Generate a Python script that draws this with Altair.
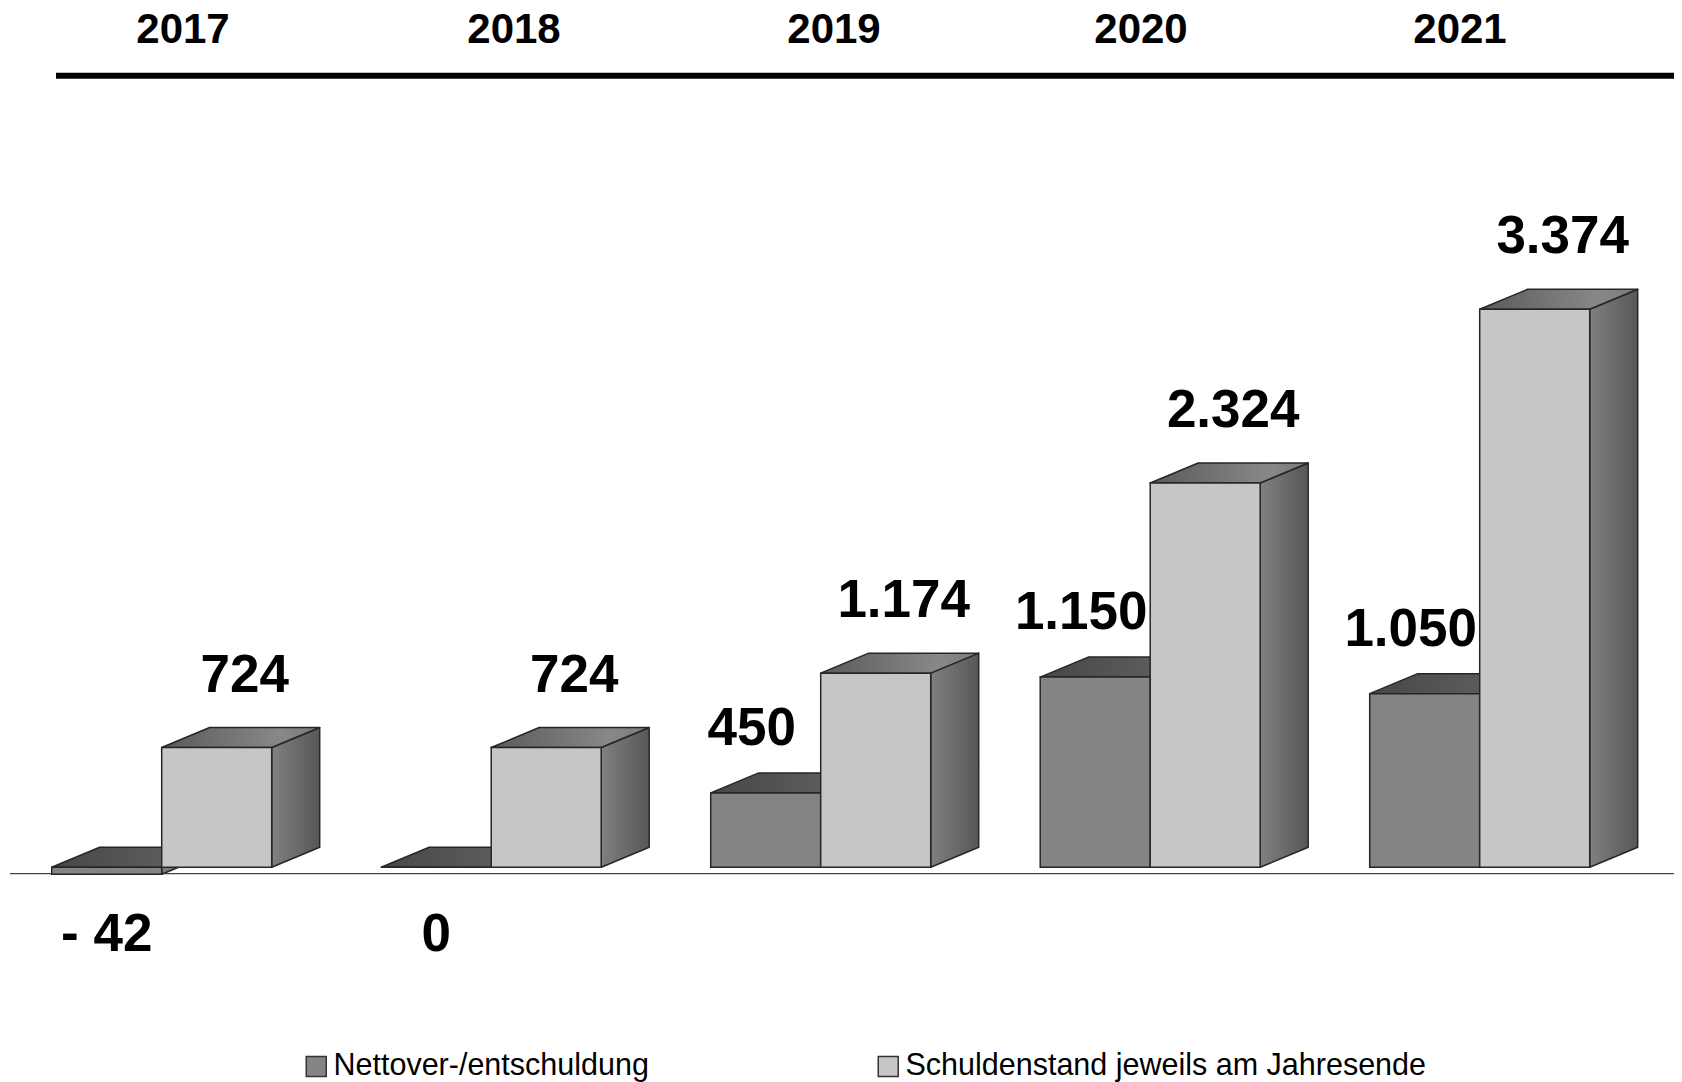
import altair as alt
import pandas as pd

# ---- data ----
years = ["2017", "2018", "2019", "2020", "2021"]
netto = [-42, 0, 450, 1150, 1050]          # Nettover-/entschuldung
stand = [724, 724, 1174, 2324, 3374]       # Schuldenstand jeweils am Jahresende
series_names = ["Nettover-/entschuldung", "Schuldenstand jeweils am Jahresende"]

# ---- layout (pixels of the plot area) ----
W, H = 1666, 1074
PPU = 0.165382            # pixels per value unit
ZERO_PX = 859.3           # pixel row of value 0
Y_MAX = ZERO_PX / PPU
Y_MIN = -(H - ZERO_PX) / PPU
X0, BW, STEP = 43.7, 110.0, 329.5
DX, DYPX = 48.0, 20.0
DYV = DYPX / PPU
HEADER_X = [175, 506, 826, 1133, 1452]   # header cell centres (layout)
STROKE = "#262626"
FONT = "Liberation Sans"


def fmt(v):
    s = f"{abs(v):,}".replace(",", ".")
    return ("- " + s) if v < 0 else s


front, side, top, labels = [[], []], [[], []], [[], []], []
for i, yr in enumerate(years):
    for s, vals in enumerate([netto, stand]):
        v = vals[i]
        left = X0 + i * STEP + s * BW
        right = left + BW
        tv, bv = max(v, 0), min(v, 0)
        key = f"{yr}-{s}"
        front[s].append(dict(series=series_names[s], left=left, right=right, top=tv, bot=bv))
        side[s] += [dict(key=key, x=right, y=tv, y2=bv),
                    dict(key=key, x=right + DX, y=tv + DYV, y2=bv + DYV)]
        top[s] += [dict(key=key, y=tv, x=left, x2=right),
                   dict(key=key, y=tv + DYV, x=left + DX, x2=right + DX)]
        if v > 0:
            ly = tv + (56 if s == 1 else 48) / PPU
            off = 28 if s == 1 else -14
        else:
            ly = -84 / PPU
            off = 0
        lx = left + BW / 2 + off
        labels.append(dict(x=lx, y=ly, label=fmt(v)))

years_df = pd.DataFrame({"year": years, "x": HEADER_X})
labels_df = pd.DataFrame(labels)

xs = alt.Scale(domain=[0, W], nice=False, zero=False)
ys = alt.Scale(domain=[Y_MIN, Y_MAX], nice=False, zero=False)
cs = alt.Scale(domain=series_names, range=["#848484", "#c6c6c6"])


def grad(stops):
    return alt.LinearGradient(
        gradient="linear",
        stops=[alt.GradientStop(offset=o, color=c) for o, c in stops],
        x1=0, x2=1, y1=0, y2=0,
    )


grad_side = grad([(0, "#808080"), (1, "#575757")])
grad_top = [grad([(0, "#474747"), (1, "#646464")]),
            grad([(0, "#5a5a5a"), (0.75, "#888888"), (1, "#7a7a7a")])]

legend = alt.Legend(
    orient="none", legendX=293, legendY=1043, direction="horizontal", title=None,
    symbolType="square", symbolSize=400, symbolStrokeColor="#333333",
    symbolStrokeWidth=1.5, symbolOpacity=1, labelFont=FONT, labelFontSize=30.5,
    labelColor="black", labelOffset=2, labelLimit=1000, columnPadding=224, padding=0,
)

dummy = pd.DataFrame({"a": [0]})
layers = [
    alt.Chart(dummy).mark_rule(color="#444444", strokeWidth=1.3).encode(
        x=alt.value(2), x2=alt.value(W), y=alt.value(865.7)),
    alt.Chart(dummy).mark_rule(color="black", strokeWidth=6).encode(
        x=alt.value(48), x2=alt.value(W), y=alt.value(67.7)),
]

for s in (0, 1):
    layers.append(
        alt.Chart(pd.DataFrame(side[s])).mark_area(
            orient="vertical", fill=grad_side, stroke=STROKE, strokeWidth=1.5, strokeJoin="round"
        ).encode(
            x=alt.X("x:Q", scale=xs, axis=None),
            y=alt.Y("y:Q", scale=ys, axis=None, stack=None),
            y2="y2:Q",
            detail="key:N",
        )
    )
    layers.append(
        alt.Chart(pd.DataFrame(top[s])).mark_area(
            orient="horizontal", fill=grad_top[s], stroke=STROKE, strokeWidth=1.5, strokeJoin="round"
        ).encode(
            y=alt.Y("y:Q", scale=ys, axis=None),
            x=alt.X("x:Q", scale=xs, axis=None, stack=None),
            x2="x2:Q",
            detail="key:N",
        )
    )
    layers.append(
        alt.Chart(pd.DataFrame(front[s])).mark_rect(stroke=STROKE, strokeWidth=1.5).encode(
            x=alt.X("left:Q", scale=xs, axis=None),
            x2="right:Q",
            y=alt.Y("top:Q", scale=ys, axis=None),
            y2="bot:Q",
            color=alt.Color("series:N", scale=cs, legend=legend),
        )
    )

layers.append(
    alt.Chart(labels_df).mark_text(
        font=FONT, fontSize=53, fontWeight="bold", color="black", align="center", baseline="alphabetic"
    ).encode(
        x=alt.X("x:Q", scale=xs, axis=None),
        y=alt.Y("y:Q", scale=ys, axis=None),
        text="label:N",
    )
)
layers.append(
    alt.Chart(years_df).mark_text(
        font=FONT, fontSize=42, fontWeight="bold", color="black", align="center", baseline="alphabetic"
    ).encode(
        x=alt.X("x:Q", scale=xs, axis=None),
        y=alt.value(35.3),
        text="year:N",
    )
)

chart = alt.layer(*layers).properties(
    width=W, height=H, padding=0, autosize="none", background="white"
).configure_view(stroke=None)

chart.save("out.html", embed_options={"renderer": "svg", "actions": False})
